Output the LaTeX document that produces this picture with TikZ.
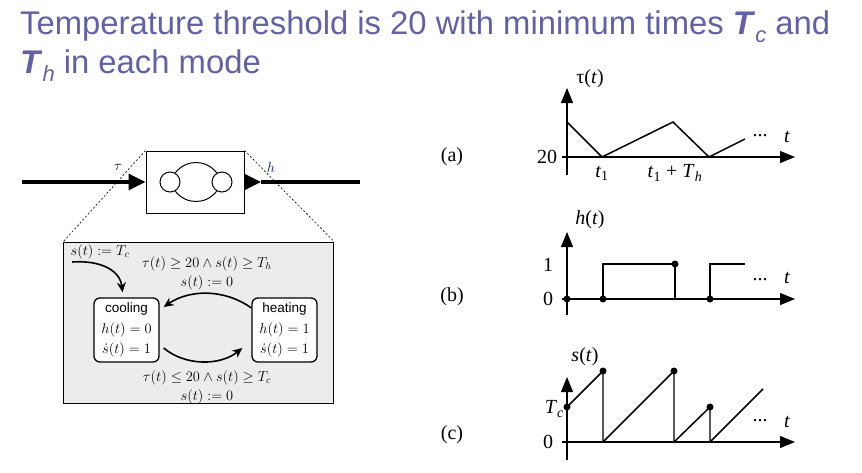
\documentclass[tikz,border=0pt]{standalone}
\usepackage{amsmath,amssymb}
\usepackage{fontspec}
\setmainfont{Liberation Serif}
\newfontfamily\titlefont{Liberation Sans}
\newfontfamily\statefont{Liberation Sans}
\usetikzlibrary{arrows.meta,calc}
\definecolor{titlecol}{RGB}{98,98,162}
\definecolor{panelgrey}{RGB}{236,236,236}
\newcommand{\tsub}[1]{\raisebox{-8pt}{\fontsize{22}{22}\selectfont\mdseries\itshape #1}}
\tikzset{
  titletext/.style={anchor=base west, inner sep=0, text=titlecol, font=\titlefont\fontsize{32.8}{36}\selectfont},
  bigwire/.style={line width=3.5pt},
  bigtip/.style={-{Triangle[length=17pt,width=16pt]}},
  guide/.style={line width=0.6pt, dash pattern=on 2pt off 2pt},
  statebox/.style={draw, fill=white, rounded corners=6pt, line width=1.3pt, minimum width=65pt, minimum height=64pt, inner sep=1pt, align=center, font=\fontsize{14}{20.5}\selectfont},
  trans/.style={line width=1.6pt, -{Stealth[length=10pt,width=9pt]}},
  smath/.style={inner sep=0, font=\fontsize{14}{17}\selectfont},
  axis/.style={line width=1.2pt, -{Triangle[length=15pt,width=12pt]}},
  curve/.style={line width=1.5pt},
  drop/.style={line width=1.5pt, draw=black!65},
  plab/.style={inner sep=0, font=\fontsize{20}{24}\selectfont},
  dot/.style={circle, fill=black, inner sep=0, minimum size=7pt}
}
\begin{document}
\begin{tikzpicture}[x=1pt,y=-1pt]
\useasboundingbox (0,0) rectangle (862,472);
% title
\node[titletext] (title1) at (20,34) {Temperature threshold is 20 with minimum times \textbf{\textit{T}}\tsub{c} and};
\node[titletext] (title2) at (20,73) {\textbf{\textit{T}}\tsub{h} in each mode};

% block diagram
\node[draw, line width=1pt, minimum width=98pt, minimum height=62pt, inner sep=0] (blk) at (195,182) {};
\coordinate (inA) at (22,182);
\coordinate (inB) at (130,182);
\coordinate (outA) at (261,182);
\coordinate (outB) at (360,182);
\draw[bigwire] (inA) -- (inB);
\draw[bigwire, bigtip] (inB) -- (blk.west);
\draw[bigwire, bigtip] (blk.east) -- (outA);
\draw[bigwire] (outA) -- (outB);
\node[inner sep=0, font=\fontsize{14}{16}\selectfont] (taulab) at (118,167) {$\tau$};
\node[inner sep=0, font=\fontsize{15}{16}\selectfont, text={rgb,255:red,20;green,30;blue,90}] (hlab) at (271,167) {$h$};
% icon
\node[draw, circle, line width=1pt, minimum size=20pt, inner sep=0] (c1) at (170,182) {};
\node[draw, circle, line width=1pt, minimum size=20pt, inner sep=0] (c2) at (222,182) {};
\draw[line width=1pt] (c1.60) .. controls (186,159) and (206,159) .. (c2.120);
\draw[line width=1pt] (c1.-60) .. controls (186,205) and (206,205) .. (c2.-120);

% panel
\node[draw, line width=1.4pt, fill=panelgrey, minimum width=270pt, minimum height=161pt, anchor=north west, inner sep=0] (panel) at (63,242) {};
\draw[guide] (blk.north west) -- (panel.north west);
\draw[guide] (blk.north east) -- (panel.north east);

\node[statebox] (cool) at (126.5,330) {{\statefont\fontsize{13.5}{15}\selectfont cooling}\\ $h(t) = 0$\\ $\dot{s}(t) = 1$};
\node[statebox] (heat) at (284.5,330) {{\statefont\fontsize{13.5}{15}\selectfont heating}\\ $h(t) = 1$\\ $\dot{s}(t) = 1$};

\node[smath] (initlab) at (100,252) {$s(t) := T_c$};
\coordinate (init) at (72,262);
\draw[trans] (init) .. controls (100,260) and (120,270) .. ($(cool.north)+(-4,-5)$);

\draw[trans] ($(heat.west)+(0,-22)$) .. controls (225,289) and (190,289) .. ($(cool.east)+(4,-23)$);
\draw[trans] ($(cool.east)+(4,18)$) .. controls (185,366) and (220,366) .. ($(heat.west)+(-9,18)$);

\node[smath] (g1) at (207,264) {$\tau(t) \geq 20 \wedge s(t) \geq T_h$};
\node[smath] (g2) at (207,283) {$s(t) := 0$};
\node[smath] (g3) at (207,378) {$\tau(t) \leq 20 \wedge s(t) \geq T_c$};
\node[smath] (g4) at (207,397) {$s(t) := 0$};

% plot (a)
\node[plab] (la) at (452,157) {(a)};
\draw[axis] (567,175) -- (567,88);
\draw[axis] (562,157) -- (795,157);
\draw[curve] (567,122) -- (602,157) -- (673,122) -- (709,157) -- (745,139);
\node[plab] (a20) at (547,157) {20};
\node[plab] (at1) at (602,173) {\textit{t}\textsubscript{1}};
\node[plab] (at2) at (675,173) {\textit{t}\textsubscript{1} + \textit{T}\textsubscript{\textit{h}}};
\node[plab] (adots) at (760,136) {...};
\node[plab] (at) at (787,137) {\textit{t}};
\node[plab] (atau) at (590,79) {τ(\textit{t})};

% plot (b)
\node[plab] (lb) at (452,297) {(b)};
\draw[axis] (567,315) -- (567,232);
\draw[axis] (562,299) -- (795,299);
\draw[curve] (567,299) -- (603,299) -- (603,264) -- (675,264) -- (675,299) -- (710,299) -- (710,264) -- (745,264);
\node[dot] (b1) at (567,299) {};
\node[dot] (b2) at (603,299) {};
\node[dot] (b3) at (675,264) {};
\node[dot] (b4) at (710,299) {};
\node[plab] (b1l) at (548,265) {1};
\node[plab] (b0l) at (548,299) {0};
\node[plab] (bdots) at (760,280) {...};
\node[plab] (bt) at (787,278) {\textit{t}};
\node[plab] (bh) at (590,220) {\textit{h}(\textit{t})};

% plot (c)
\node[plab] (lc) at (452,435) {(c)};
\draw[axis] (567,460) -- (567,377);
\draw[axis] (562,442) -- (795,442);
\draw[curve] (567,407) -- (603,371);
\draw[drop] (603,371) -- (603,442);
\draw[curve] (603,442) -- (674,371);
\draw[drop] (674,371) -- (674,442);
\draw[curve] (674,442) -- (710,407);
\draw[drop] (710,407) -- (710,442);
\draw[curve] (710,442) -- (763,389);
\node[dot] (c1d) at (567,407) {};
\node[dot] (c2d) at (603,371) {};
\node[dot] (c3d) at (674,371) {};
\node[dot] (c4d) at (710,407) {};
\node[plab, anchor=east] (cTc) at (564,409) {\textit{T}\textsubscript{\textit{c}}};
\node[plab] (c0l) at (548,442) {0};
\node[plab] (cdots) at (760,421) {...};
\node[plab] (ct) at (787,422) {\textit{t}};
\node[plab] (cs) at (585,357) {\textit{s}(\textit{t})};
\end{tikzpicture}
\end{document}
